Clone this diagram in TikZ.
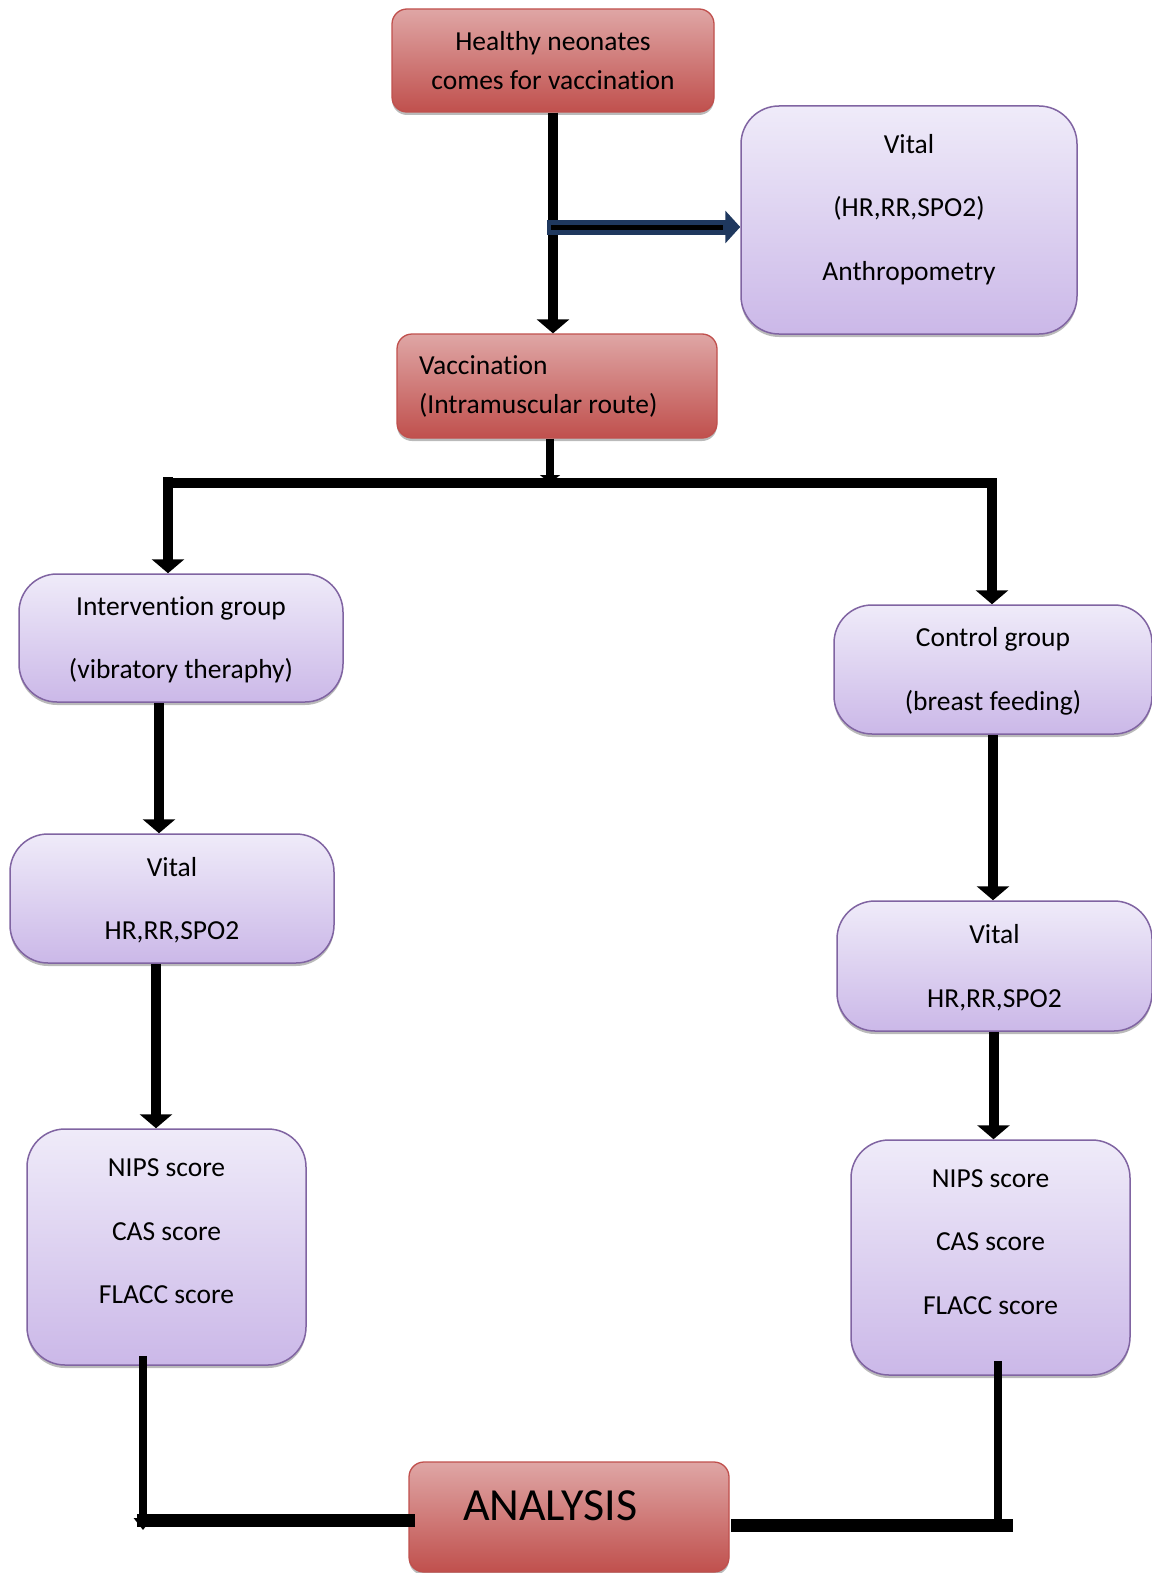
\documentclass[tikz,border=0pt]{standalone}
\usepackage{fontspec}
\setmainfont{Carlito}[Ligatures=NoCommon]
\usetikzlibrary{arrows.meta}
\usetikzlibrary{shadows}
\usetikzlibrary{positioning}

\definecolor{boxred}{RGB}{192,80,77}
\definecolor{boxredtop}{RGB}{223,166,165}
\definecolor{boxpurple}{RGB}{128,100,162}
\definecolor{purpletop}{RGB}{239,235,249}
\definecolor{purplebottom}{RGB}{203,184,232}
\definecolor{arrownavy}{RGB}{31,56,94}

\tikzset{
  boxshadow/.style={drop shadow={shadow xshift=0pt,shadow yshift=-3pt,opacity=.45,fill=black!60}},
  redbox/.style={draw=boxred,line width=1.3pt,rounded corners=15pt,top color=boxredtop,bottom color=boxred,
    inner sep=0pt,align=center,boxshadow,font=\fontsize{27.5}{39}\selectfont},
  vbox/.style={draw=boxpurple,line width=1.5pt,rounded corners=38pt,top color=purpletop,bottom color=purplebottom,
    inner sep=0pt,align=center,boxshadow,font=\fontsize{27.5}{63.5}\selectfont},
  flow/.style={line width=10pt,-{Triangle[length=14pt,width=32pt]}},
  smallflow/.style={line width=8pt,-{Triangle[length=8pt,width=20pt]}},
  thinflow/.style={line width=8pt,-{Triangle[length=12pt,width=18pt]}},
  bar/.style={line width=10pt,line cap=rect},
  thickline/.style={line width=13pt,line cap=rect},
  bluearrow/.style={line width=15pt,draw=arrownavy,-{Triangle[length=15pt,width=32pt]}}
}

\begin{document}
\begin{tikzpicture}[x=1pt,y=-1pt]
\useasboundingbox (0,0) rectangle (1151,1573);

% boxes
\node[redbox,minimum width=322pt,minimum height=103pt] (healthy) at (553,60.5) {Healthy neonates\\comes for vaccination};
\node[vbox,minimum width=336pt,minimum height=228pt,text depth=26pt] (vitaltop) at (909,220) {Vital\\(HR,RR,SPO2)\\Anthropometry};
\node[redbox,align=flush left,text width=276pt,inner xsep=22pt,minimum height=104pt] (vacc) at (557,386) {Vaccination\\(Intramuscular\ route)};
\node[vbox,minimum width=324pt,minimum height=128pt,text depth=1pt] (intv) at (181,638) {Intervention group\\(vibratory theraphy)};
\node[vbox,minimum width=318pt,minimum height=129pt,text depth=1pt] (ctrl) at (993,669.5) {Control group\\(breast feeding)};
\node[vbox,minimum width=324pt,minimum height=129pt,text depth=0pt] (vitl) at (172,898.5) {Vital\\HR,RR,SPO2};
\node[vbox,minimum width=315pt,minimum height=130pt,text depth=0pt] (vitr) at (994.5,966) {Vital\\HR,RR,SPO2};
\node[vbox,minimum width=279pt,minimum height=236pt,text depth=31pt] (nipsl) at (166.5,1247) {NIPS score\\CAS score\\FLACC score};
\node[vbox,minimum width=279pt,minimum height=235pt,text depth=31pt] (nipsr) at (990.5,1257.5) {NIPS score\\CAS score\\FLACC score};
\node[redbox,align=left,text width=212pt,inner xsep=54pt,minimum height=110pt,text height=31pt,text depth=24pt,
  font=\fontsize{46}{52}\selectfont] (analysis) at (569,1517) {ANALYSIS};

% free ends
\coordinate (bluestart) at (547,227);
\coordinate (barmid) at (550,483);
\coordinate (splitleft) at (168,477);
\coordinate (barright) at (992,483);
\coordinate (cornerl) at (143,1530);
\coordinate (cornerr) at (998,1532);

% connectors
\draw[flow] (healthy.south) -- (healthy.south |- vacc.north);
\draw[bluearrow] (bluestart) -- (bluestart -| vitaltop.west);
\draw[line width=5pt,shorten <=4pt,shorten >=17pt] (bluestart) -- (bluestart -| vitaltop.west);
\draw[smallflow] ([xshift=-7pt]vacc.south) -- (barmid);
\draw[bar] (splitleft |- barmid) -- (barright);
\draw[flow] (splitleft) -- (splitleft |- intv.north);
\draw[flow] (barright) -- (barright |- ctrl.north);
\draw[flow] ([xshift=-22pt]intv.south) -- ([xshift=-22pt]intv.south |- vitl.north);
\draw[flow] ([xshift=-16pt]vitl.south) -- ([xshift=-16pt]vitl.south |- nipsl.north);
\draw[flow] (ctrl.south) -- (ctrl.south |- vitr.north);
\draw[flow] ([xshift=-1pt]vitr.south) -- ([xshift=-1pt]vitr.south |- nipsr.north);
\draw[thinflow] ([xshift=-23.5pt,yshift=10pt]nipsl.south) -- (cornerl);
\draw[thickline] ([yshift=-3pt]analysis.west) -- ([yshift=-3pt]analysis.west -| cornerl);
\draw[thinflow] ([xshift=7.5pt,yshift=15pt]nipsr.south) -- (cornerr);
\draw[thickline] ([xshift=8pt,yshift=-8pt]analysis.east) -- ([xshift=8pt,yshift=-8pt]analysis.east -| cornerr);
\end{tikzpicture}
\end{document}
